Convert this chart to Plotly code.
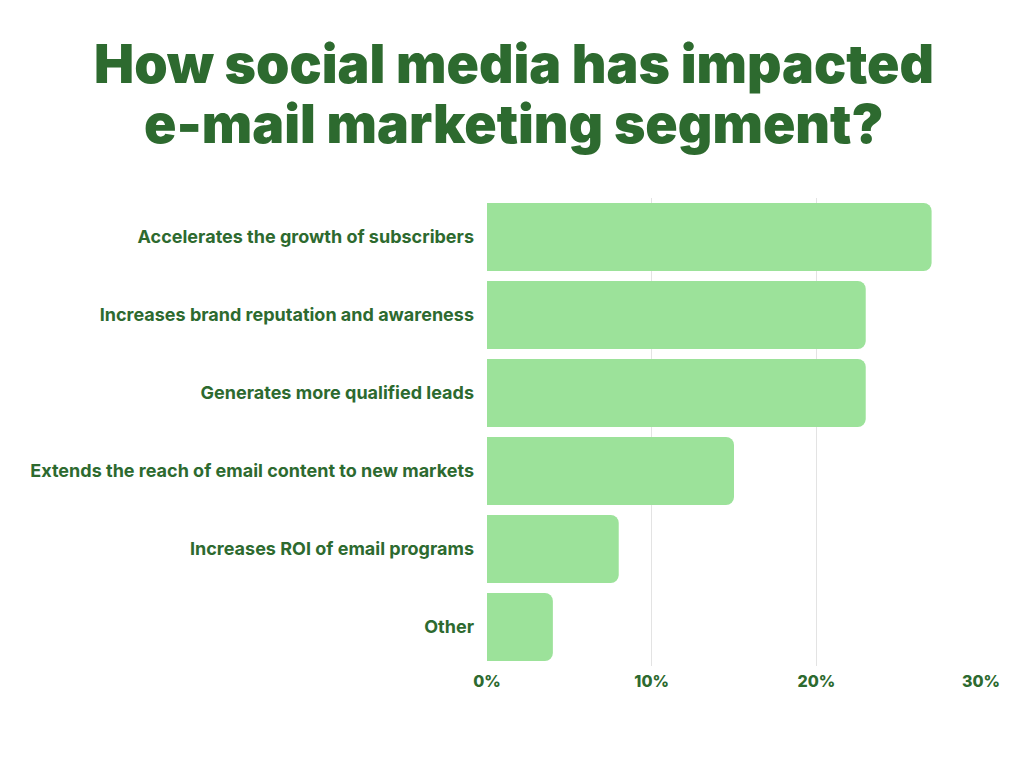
import plotly.graph_objects as go

categories = [
    "Accelerates the growth of subscribers",
    "Increases brand reputation and awareness",
    "Generates more qualified leads",
    "Extends the reach of email content to new markets",
    "Increases ROI of email programs",
    "Other",
]
values = [27, 23, 23, 15, 8, 4]
tick_vals = [0, 10, 20, 30]
tick_text = ["0%", "10%", "20%", "30%"]
title_lines = ["How social media has impacted", "e-mail marketing segment?"]

GREEN = "#2d6a2f"
BAR = "#9ce29a"

fig = go.Figure(go.Bar(
    x=values,
    y=categories,
    orientation="h",
    marker=dict(color=BAR, cornerradius=8, line=dict(width=0)),
    hoverinfo="skip",
))

# plot area: x 487..981 px, y 198..666 px
L, R, T, B = 487, 43, 198, 102
W = 1024 - L - R
H = 768 - T - B

def px_to_paper(xp, yp):
    return (xp - L) / W, (768 - B - yp) / H

annos = []
for line, ycen in zip(title_lines, [64, 124]):
    xx, yy = px_to_paper(514, ycen)
    annos.append(dict(
        text=line, x=xx, y=yy, xref="paper", yref="paper",
        xanchor="center", yanchor="middle", showarrow=False,
        font=dict(family="Inter", size=53.5, color=GREEN, weight=900),
    ))

fig.update_layout(
    width=1024, height=768,
    paper_bgcolor="white", plot_bgcolor="white",
    margin=dict(l=L, r=R, t=T, b=B),
    bargap=0.128,
    showlegend=False,
    annotations=annos,
    xaxis=dict(
        range=[0, 30], tickvals=tick_vals, ticktext=tick_text,
        showgrid=True, gridcolor="#e3e3e3", gridwidth=1,
        zeroline=False, showline=False,
        tickfont=dict(family="Inter", size=16, color=GREEN, weight=800),
        ticks="", ticklabelstandoff=4,
    ),
    yaxis=dict(
        categoryorder="array", categoryarray=categories[::-1],
        showgrid=False, zeroline=False, showline=False,
        tickfont=dict(family="Inter", size=18, color=GREEN, weight=700),
        ticks="", ticklabelstandoff=12,
    ),
)

fig.write_html("out.html")
